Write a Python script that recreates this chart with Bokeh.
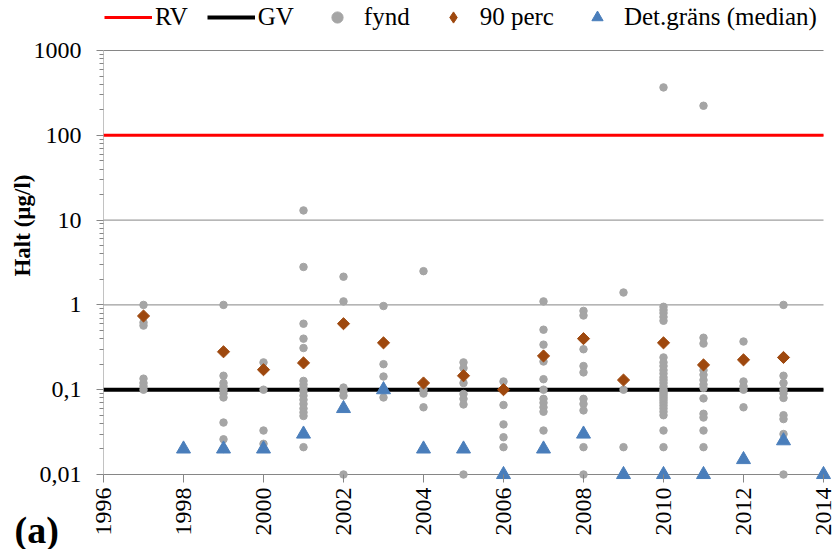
import math

from bokeh.core.properties import value
from bokeh.embed import file_html
from bokeh.models import (CustomJSTickFormatter, FixedTicker, Legend,
                          LegendItem, Range1d)
from bokeh.plotting import figure
from bokeh.resources import INLINE

# --- data: concentrations (µg/l) per sampling year -------------------------
fynd_1997 = [1.0, 0.62, 0.57, 0.135, 0.12, 0.11, 0.10]
fynd_1999 = [1.0, 0.146, 0.12, 0.11, 0.1, 0.09, 0.081, 0.041, 0.026, 0.02]
fynd_2000 = [0.21, 0.1, 0.033, 0.023]
fynd_2001 = [13.0, 2.8, 0.6, 0.4, 0.31, 0.127, 0.115, 0.105, 0.095, 0.085,
             0.076, 0.068, 0.06, 0.054, 0.049, 0.021]
fynd_2002 = [2.15, 1.1, 0.106, 0.095, 0.085, 0.01]
fynd_2003 = [0.97, 0.2, 0.143, 0.081]
fynd_2004 = [2.5, 0.1, 0.09, 0.062]
fynd_2005 = [0.21, 0.18, 0.12, 0.089, 0.078, 0.067, 0.01]
fynd_2006 = [0.125, 0.066, 0.039, 0.0275, 0.021]
fynd_2007 = [1.1, 0.51, 0.34, 0.215, 0.133, 0.1, 0.078, 0.07, 0.062, 0.055,
             0.033]
fynd_2008 = [0.85, 0.75, 0.3, 0.19, 0.16, 0.078, 0.068, 0.057, 0.021, 0.01]
fynd_2009 = [1.4, 0.1, 0.021]
fynd_2010 = [367.0, 0.95, 0.87, 0.8, 0.72, 0.65, 0.24, 0.21, 0.19, 0.17,
             0.155, 0.14, 0.13, 0.12, 0.11, 0.1, 0.095, 0.09, 0.085, 0.08,
             0.075, 0.07, 0.065, 0.06, 0.055, 0.05, 0.033, 0.021, 0.01]
fynd_2011 = [223.0, 0.41, 0.35, 0.17, 0.15, 0.13, 0.115, 0.105, 0.079, 0.052,
             0.047, 0.033, 0.021]
fynd_2012 = [0.37, 0.125, 0.11, 0.1, 0.062]
fynd_2013 = [1.0, 0.146, 0.12, 0.1, 0.09, 0.08, 0.05, 0.045, 0.03, 0.01]

fynd_per_ar = [
    (1997, fynd_1997), (1999, fynd_1999), (2000, fynd_2000),
    (2001, fynd_2001), (2002, fynd_2002), (2003, fynd_2003),
    (2004, fynd_2004), (2005, fynd_2005), (2006, fynd_2006),
    (2007, fynd_2007), (2008, fynd_2008), (2009, fynd_2009),
    (2010, fynd_2010), (2011, fynd_2011), (2012, fynd_2012),
    (2013, fynd_2013),
]

perc_ar = [1997, 1999, 2000, 2001, 2002, 2003, 2004, 2005, 2006, 2007, 2008,
           2009, 2010, 2011, 2012, 2013]
perc_halt = [0.74, 0.28, 0.172, 0.207, 0.6, 0.357, 0.12, 0.146, 0.1, 0.25,
             0.4, 0.13, 0.357, 0.196, 0.225, 0.24]

det_ar = [1998, 1999, 2000, 2001, 2002, 2003, 2004, 2005, 2006, 2007, 2008,
          2009, 2010, 2011, 2012, 2013, 2014]
det_halt = [0.02, 0.02, 0.02, 0.03, 0.06, 0.1, 0.02, 0.02, 0.01, 0.02, 0.03,
            0.01, 0.01, 0.01, 0.015, 0.025, 0.01]

rv_halt = 100.0   # riktvärde
gv_halt = 0.1     # gränsvärde

x_ticks = [1996, 1998, 2000, 2002, 2004, 2006, 2008, 2010, 2012, 2014]
y_major = [0.01, 0.1, 1, 10, 100, 1000]

# --- styling ---------------------------------------------------------------
SERIF = "Liberation Serif"
AXIS_GREY = "#868686"
BROWN = "#9E480E"
X0, X1 = x_ticks[0], x_ticks[-1]
Y0, Y1 = y_major[0], y_major[-1]

# Axes span 1996..2014 / 0.01..1000; the frame runs a little past them
# (bottom, right) and up to the top of the canvas so that edge markers and
# the legend above the axes are not clipped.
PX_PER_YEAR = 40.0
PX_PER_DECADE = 424 / 5.0
PLOT_LEFT, AXIS_BOTTOM, AXIS_TOP = 103, 474, 50
y_start = Y0 * 10 ** (-8 / PX_PER_DECADE)
y_end = Y1 * 10 ** (AXIS_TOP / PX_PER_DECADE)
x_end = X1 + 10 / PX_PER_YEAR


def screen_x(px):
    """Data x of a canvas pixel column."""
    return X0 + (px - PLOT_LEFT) / PX_PER_YEAR


def screen_y(py):
    """Data y (log axis) of a canvas pixel row."""
    return Y0 * 10 ** ((AXIS_BOTTOM - py) / PX_PER_DECADE)


p = figure(width=835, height=549, y_axis_type="log",
           x_range=Range1d(X0, x_end), y_range=Range1d(y_start, y_end),
           output_backend="svg", toolbar_location=None,
           min_border_left=PLOT_LEFT, min_border_right=2,
           min_border_top=0, min_border_bottom=67)
p.outline_line_color = None
p.xgrid.visible = False
p.ygrid.visible = False

# horizontal gridlines at each decade
p.segment(x0=[X0] * len(y_major), x1=[X1] * len(y_major),
          y0=y_major, y1=y_major, line_color=AXIS_GREY, line_width=1)
# axis lines
p.segment(x0=[X0, X0], x1=[X0, X1], y0=[Y0, Y0], y1=[Y1, Y0],
          line_color=AXIS_GREY, line_width=1)

r_rv = p.line([X0, X1], [rv_halt, rv_halt], line_color="#FF0000",
              line_width=3)
r_gv = p.line([X0, X1], [gv_halt, gv_halt], line_color="#000000",
              line_width=4)

fx, fy = [], []
for ar, vals in fynd_per_ar:
    fx.extend([ar] * len(vals))
    fy.extend(vals)
r_fynd = p.scatter(fx, fy, marker="circle", size=7.5, fill_color="#A5A5A5",
                   line_color="#A5A5A5")

# 90th percentile: a small "diamond" glyph (used for the legend key) sits
# under a square turned 45 degrees, which gives the even-sided diamond
r_perc = p.scatter(perc_ar, perc_halt, marker="diamond", size=8,
                   fill_color=BROWN, line_color=BROWN)
p.scatter(perc_ar, perc_halt, marker="square", angle=math.pi / 4, size=8.6,
          fill_color=BROWN, line_color=BROWN)

r_det = p.scatter(det_ar, det_halt, marker="triangle", size=14,
                  fill_color="#4A7EBB", line_color="#4A7EBB")

# --- axes ------------------------------------------------------------------
minor = [k * 10 ** e for e in range(-2, 3) for k in range(2, 10)]
p.yaxis.ticker = FixedTicker(ticks=y_major, minor_ticks=minor)
p.yaxis.formatter = CustomJSTickFormatter(code="""
    const k = Math.round(Math.log10(tick));
    if (k >= 0) return String(Math.pow(10, k));
    return "0," + "0".repeat(-k - 1) + "1";
""")
p.yaxis.axis_line_color = None
p.yaxis.major_tick_line_color = AXIS_GREY
p.yaxis.minor_tick_line_color = AXIS_GREY
p.yaxis.major_tick_in = 0
p.yaxis.major_tick_out = 7
p.yaxis.minor_tick_in = 0
p.yaxis.minor_tick_out = 4
p.yaxis.major_label_standoff = 15
p.yaxis.major_label_text_font = SERIF
p.yaxis.major_label_text_font_size = "24px"
p.yaxis.major_label_text_color = "#000000"

p.xaxis.ticker = FixedTicker(ticks=x_ticks)
p.xaxis.axis_line_color = None
p.xaxis.major_tick_line_color = AXIS_GREY
p.xaxis.major_tick_in = 8
p.xaxis.major_tick_out = 0
p.xaxis.minor_tick_line_color = None
p.xaxis.major_label_orientation = math.pi / 2
p.xaxis.major_label_standoff = 5
p.xaxis.major_label_text_font = SERIF
p.xaxis.major_label_text_font_size = "24px"
p.xaxis.major_label_text_color = "#000000"

# y-axis title, centred beside the axis
p.text(x=[screen_x(22)], y=[screen_y(225)], text=["Halt (µg/l)"],
       angle=math.pi / 2, text_font=value(SERIF), text_font_style="bold",
       text_font_size="23px", text_color="#000000", text_align="center",
       text_baseline="middle", level="overlay")

# --- legend along the top --------------------------------------------------
frame_h = 549 - 67
legend = Legend(
    items=[
        LegendItem(label="RV", renderers=[r_rv]),
        LegendItem(label="GV", renderers=[r_gv]),
        LegendItem(label="fynd", renderers=[r_fynd]),
        LegendItem(label="90 perc", renderers=[r_perc]),
        LegendItem(label="Det.gräns (median)", renderers=[r_det]),
    ],
    location=(1, frame_h - 31), orientation="horizontal",
    glyph_width=48, glyph_height=28, label_height=28,
    label_standoff=3, spacing=19, padding=0, margin=0,
    border_line_color=None, background_fill_alpha=0,
    label_text_font=SERIF, label_text_font_size="25px",
    label_text_color="#000000",
)
p.add_layout(legend)

# panel tag in the bottom-left corner, below the frame
p.text(x=[screen_x(14)], y=[screen_y(529)], text=["(a)"],
       text_font=value(SERIF), text_font_style="bold", text_font_size="38px",
       text_color="#000000", text_baseline="middle", text_align="left",
       level="overlay")

open("out.html", "w").write(file_html(p, INLINE))
